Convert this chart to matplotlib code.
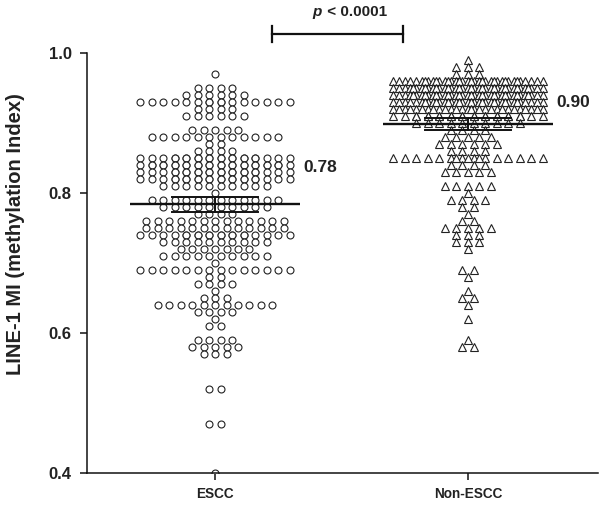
import numpy as np
import matplotlib
matplotlib.use("Agg")
import matplotlib.pyplot as plt

plt.rcParams['font.family'] = ['Liberation Sans', 'DejaVu Sans']

categories = ["ESCC", "Non-ESCC"]

escc_values = [0.97, 0.95, 0.94, 0.93, 0.92, 0.91, 0.89, 0.88, 0.87, 0.86, 0.85, 0.84,
               0.83, 0.82, 0.81, 0.80, 0.79, 0.78, 0.77, 0.76, 0.75, 0.74, 0.73, 0.72,
               0.71, 0.70, 0.69, 0.68, 0.67, 0.66, 0.65, 0.64, 0.63, 0.62, 0.61, 0.59,
               0.58, 0.57, 0.52, 0.47, 0.40]
escc_counts = [1, 4, 6, 16, 4, 6, 5, 12, 2, 4, 22, 26,
               22, 22, 10, 1, 12, 10, 4, 13, 13, 20, 10, 7,
               10, 1, 14, 2, 4, 1, 3, 11, 4, 1, 2, 4,
               5, 3, 2, 2, 1]

non_values = [0.99, 0.98, 0.97, 0.96, 0.95, 0.94, 0.93, 0.92, 0.91, 0.90, 0.89, 0.88,
              0.87, 0.86, 0.85, 0.84, 0.83, 0.81, 0.80, 0.79, 0.78, 0.77, 0.76, 0.75,
              0.74, 0.73, 0.72, 0.69, 0.68, 0.66, 0.65, 0.64, 0.62, 0.59, 0.58]
non_counts = [1, 3, 3, 36, 38, 38, 36, 28, 24, 10, 4, 5,
              6, 4, 17, 4, 5, 5, 1, 4, 2, 1, 2, 5,
              3, 3, 1, 2, 1, 1, 2, 1, 1, 1, 2]

p_text = "p < 0.0001"
ylabel = "LINE-1 MI (methylation Index)"

fig = plt.figure(figsize=(6.0, 5.05), dpi=100)
ax = fig.add_axes([87/600, (505-473)/505, (598-87)/600, (473-53)/505])

step = 11.5/253
cap = 14
offsets = [0.0, 0.5, 0.25, 0.75]


def swarm(center, vals, counts):
    xs, ys = [], []
    for v, k in zip(vals, counts):
        rem = k
        layer = 0
        while rem > 0:
            n = min(rem, cap - (1 if layer % 2 else 0))
            pos = (np.arange(n) - (n-1)/2) * step
            if layer >= 2:
                pos = pos + (offsets[layer % 4] - 0.5 * (layer % 2)) * step
            xs.extend(center + pos)
            ys.extend([v]*n)
            rem -= n
            layer += 1
    return np.array(xs), np.array(ys)


groups = [(escc_values, escc_counts, 'o', 5.0), (non_values, non_counts, '^', 5.6)]
for i, (vals, cnts, mk, ms) in enumerate(groups):
    x, y = swarm(i, vals, cnts)
    ax.plot(x, y, linestyle='none', marker=mk, markersize=ms, markerfacecolor='white',
            markeredgecolor='#222222', markeredgewidth=0.8, zorder=2)
    data = np.repeat(vals, cnts)
    m = data.mean()
    ci = 1.96*data.std(ddof=1)/np.sqrt(len(data))
    ax.plot([i-0.336, i+0.336], [m, m], color='#111111', lw=1.7, zorder=3,
            solid_capstyle='butt')
    ax.plot([i-0.17, i+0.17], [m+ci, m+ci], color='#111111', lw=1.4, zorder=3)
    ax.plot([i-0.17, i+0.17], [m-ci, m-ci], color='#111111', lw=1.4, zorder=3)
    ax.plot([i, i], [m-ci, m+ci], color='#111111', lw=1.4, zorder=3)
    ty = [0.836, 0.93][i]
    ax.text(i+0.348, ty, f"{m:.2f}", fontsize=12.5, fontweight='bold',
            va='center', ha='left', color='#222222')

ax.set_xlim(-0.506, 1.514)
ax.set_ylim(0.4, 1.0)
ax.set_yticks([0.4, 0.6, 0.8, 1.0])
ax.set_yticklabels([f"{t:.1f}" for t in [0.4, 0.6, 0.8, 1.0]], fontsize=12,
                   fontweight='bold', color='#222222')
ax.set_xticks([0, 1])
ax.set_xticklabels(categories, fontsize=9.8, fontweight='bold', color='#222222')
ax.tick_params(axis='both', direction='out', length=5, width=1.1, color='#111111')
ax.tick_params(axis='x', pad=5)
ax.tick_params(axis='y', pad=6)
for s in ['top', 'right']:
    ax.spines[s].set_visible(False)
for s in ['left', 'bottom']:
    ax.spines[s].set_linewidth(1.1)
    ax.spines[s].set_color('#111111')

# significance bracket
yb = 1.027
ax.plot([0.225, 0.743], [yb, yb], color='#111111', lw=1.6, clip_on=False)
ax.plot([0.225, 0.225], [yb-0.011, yb+0.011], color='#111111', lw=1.6, clip_on=False)
ax.plot([0.743, 0.743], [yb-0.011, yb+0.011], color='#111111', lw=1.6, clip_on=False)
p_sym, p_rest = p_text.split(" ", 1)
ax.text(0.42, 1.059, p_sym, fontsize=11, fontweight='bold', style='italic',
        ha='right', va='center', color='#222222', clip_on=False)
ax.text(0.425, 1.059, " " + p_rest, fontsize=11, fontweight='bold',
        ha='left', va='center', color='#222222', clip_on=False)

fig.text(16/600, 1-234/505, ylabel, rotation=90, fontsize=14.5, fontweight='bold',
         ha='center', va='center', color='#222222')

fig.savefig("out.png", dpi=100)
